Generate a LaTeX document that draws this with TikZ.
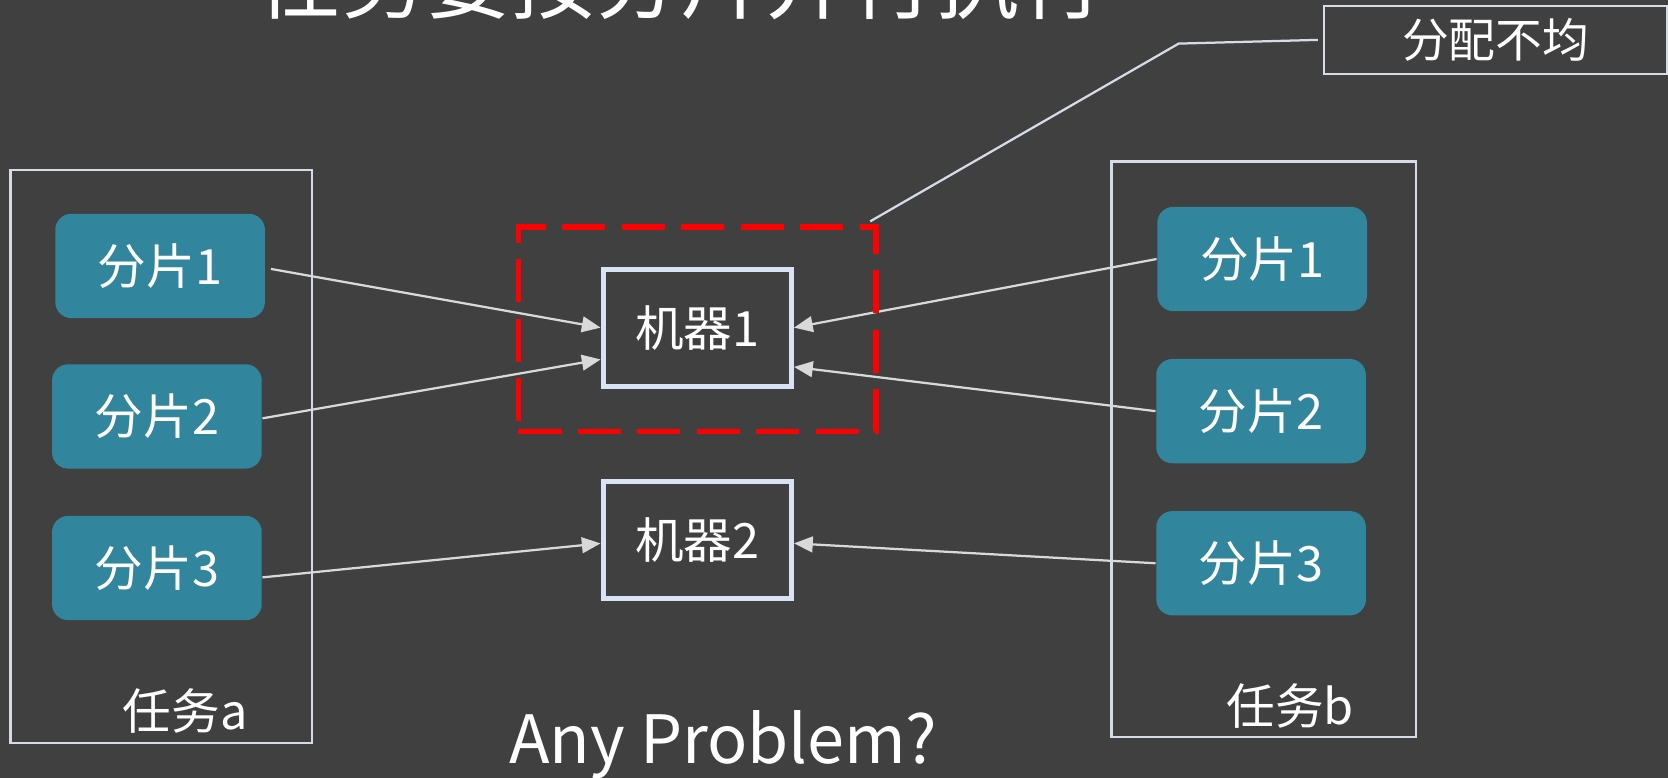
\documentclass[tikz,border=0pt]{standalone}
\usepackage{fontspec}
\setmainfont{Noto Sans CJK SC}
\usetikzlibrary{arrows.meta}
\definecolor{SlideGray}{HTML}{404040}
\definecolor{ShardTeal}{HTML}{31859C}
\definecolor{FrameWhite}{HTML}{D6DCE5}
\definecolor{BoxWhite}{HTML}{DAE3F3}
\definecolor{AlertRed}{HTML}{FF0000}
\definecolor{ArrowGray}{HTML}{D9D9D9}
\tikzset{
  shard/.style={fill=ShardTeal, rounded corners=4.3pt, text=white,
    minimum width=1.97cm, minimum height=0.98cm,
    font=\fontsize{13}{15}\selectfont},
  machine/.style={draw=BoxWhite, line width=1.35pt, text=white,
    minimum width=1.77cm, minimum height=1.10cm,
    font=\fontsize{13}{15}\selectfont},
  taskframe/.style={draw=FrameWhite, line width=0.6pt},
  tasklabel/.style={text=white, font=\fontsize{13}{15}\selectfont},
  feed/.style={draw=ArrowGray, line width=0.6pt,
    -{Triangle[length=5pt,width=4.2pt]}},
}

\begin{document}
\begin{tikzpicture}[x=0.01cm, y=-0.01cm]
  % slide background
  \fill[SlideGray] (0,0) rectangle (1568,731);
  \useasboundingbox (0,0) rectangle (1568,731);
  \clip (0,0) rectangle (1568,731);

  % title, cut by the top edge
  \node[anchor=base, text=white, font=\fontsize{22.7}{27}\selectfont]
    (title) at (640,12) {任务要按分片并行执行};

  % task a
  \node[taskframe, minimum width=2.83cm, minimum height=5.38cm]
    (taska) at (151.5,429) {};
  \node[shard] (a1) at (150.5,250) {分片1};
  \node[shard] (a2) at (147.5,391.5) {分片2};
  \node[shard] (a3) at (147.5,534) {分片3};
  \node[tasklabel] (labela) at (174,668) {任务a};

  % task b
  \node[taskframe, minimum width=2.86cm, minimum height=5.41cm]
    (taskb) at (1188,422.5) {};
  \node[shard] (b1) at (1186.5,243.5) {分片1};
  \node[shard] (b2) at (1185.5,386.5) {分片2};
  \node[shard] (b3) at (1185.5,529.5) {分片3};
  \node[tasklabel] (labelb) at (1213,664) {任务b};

  % machines
  \node[machine] (m1) at (655.5,308) {机器1};
  \node[machine] (m2) at (655.5,508) {机器2};

  % shards to machines
  \draw[feed] ([xshift=1.4pt,yshift=-0.8pt]a1.east) -- (m1.west);
  \draw[feed] ([yshift=-0.5pt]a2.east) -- ([yshift=-8.5pt]m1.west);
  \draw[feed] ([yshift=-2.5pt]a3.east) -- ([yshift=-0.8pt]m2.west);
  \draw[feed] (b1.west) -- (m1.east);
  \draw[feed] (b2.west) -- ([yshift=-10.5pt]m1.east);
  \draw[feed] (b3.west) -- ([yshift=-0.8pt]m2.east);

  % overloaded machine
  \node[draw=AlertRed, line width=1.45pt, dash pattern=on 11.5pt off 4.4pt,
        minimum width=3.36cm, minimum height=1.92cm]
    (overload) at (655.5,309.5) {};

  % callout
  \node[draw=FrameWhite, line width=0.6pt, text=white,
        minimum width=3.22cm, minimum height=0.59cm,
        font=\fontsize{12.5}{15}\selectfont]
    (uneven) at (1406,37.5) {分配不均};
  \coordinate (bend) at (1108,41);
  \draw[taskframe] ([xshift=-2.3pt,yshift=0.8pt]overload.north east)
    -- (bend) -- ([xshift=-1.4pt]uneven.west);

  % question
  \node[anchor=base, text=white, font=\fontsize{17.8}{22}\selectfont]
    (question) at (680,718) {Any Problem?};
\end{tikzpicture}
\end{document}
